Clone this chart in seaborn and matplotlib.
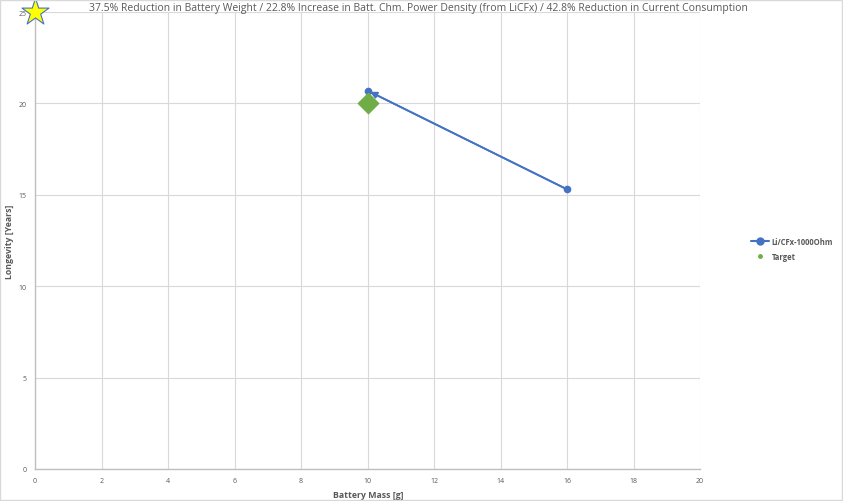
import matplotlib
matplotlib.use("Agg")
import matplotlib.pyplot as plt
import seaborn as sns
import pandas as pd
from matplotlib.lines import Line2D

sns.set_theme(style="white")
plt.rcParams['font.family'] = ['Open Sans', 'DejaVu Sans']

# Data
series_mass = [16, 10]
series_life = [15.3, 20.7]
target_mass = [10]
target_life = [20]
star_mass = [0]
star_life = [25]
series_name = "Li/CFx-1000Ohm"
target_name = "Target"
title = ("37.5% Reduction in Battery Weight / 22.8% Increase in Batt. Chm. Power Density "
         "(from LiCFx) / 42.8% Reduction in Current Consumption")
x_ticks = [0, 2, 4, 6, 8, 10, 12, 14, 16, 18, 20]
y_ticks = [0, 5, 10, 15, 20, 25]

blue = "#4472C4"
green = "#70AD47"
grid_c = "#D9D9D9"
text_c = "#595959"

fig = plt.figure(figsize=(8.43, 5.02), dpi=100)
ax = fig.add_axes([35/843, 32/502, 665/843, 457/502])

df = pd.DataFrame({"mass": series_mass, "life": series_life})
sns.lineplot(data=df, x="mass", y="life", sort=False, ax=ax, color=blue,
             linewidth=1.3, marker="o", markersize=5.5, markeredgewidth=0, legend=False)
ax.annotate("", xy=(series_mass[1], series_life[1]),
            xytext=(series_mass[0], series_life[0]),
            arrowprops=dict(arrowstyle="-|>", color=blue, lw=1.3,
                            mutation_scale=10, shrinkA=0, shrinkB=2))

sns.scatterplot(x=target_mass, y=target_life, ax=ax, color=green, marker="D",
                s=110, edgecolor=green, legend=False, zorder=4)
sns.scatterplot(x=star_mass, y=star_life, ax=ax, color="#FFFF00", marker="*",
                s=420, edgecolor=blue, linewidth=0.8, legend=False, zorder=5,
                clip_on=False)

ax.set_xlim(0, 20)
ax.set_ylim(0, 25)
ax.set_xticks(x_ticks)
ax.set_yticks(y_ticks)
ax.set_xticklabels([str(t) for t in x_ticks])
ax.set_yticklabels([str(t) for t in y_ticks])
ax.tick_params(axis="both", labelsize=5, colors=text_c, length=0, pad=6)
ax.grid(True, color=grid_c, linewidth=0.8)
ax.set_axisbelow(True)
for s in ["top", "right"]:
    ax.spines[s].set_visible(False)
for s in ["left", "bottom"]:
    ax.spines[s].set_color("#BFBFBF")
    ax.spines[s].set_linewidth(1)

ax.set_xlabel("Battery Mass [g]", fontsize=6.3, color=text_c, fontweight="bold")
ax.xaxis.set_label_coords((368 - 35) / 665, -(491 - 470) / 457)
ax.set_ylabel("Longevity [Years]", fontsize=6.3, color=text_c, fontweight="bold")
ax.yaxis.set_label_coords(-(35 - 14) / 665, 0.5)

fig.text(418/843, 1 - 9/502, title, fontsize=7.5, color=text_c, ha="center", va="center")

handles = [
    Line2D([], [], color=blue, marker="o", markersize=5, linewidth=1.5),
    Line2D([], [], color=green, marker="o", markersize=2.5, linewidth=0),
]
fig.legend(handles, [series_name, target_name], loc="center left",
           bbox_to_anchor=(749/843, 1 - 250/502), frameon=False,
           prop={"size": 5.5, "weight": "bold"}, labelcolor=text_c,
           handlelength=2.4, handletextpad=0.35, labelspacing=0.8,
           borderaxespad=0, borderpad=0.2)

border = plt.Rectangle((0.0005, 0.001), 0.998, 0.997, transform=fig.transFigure,
                       fill=False, edgecolor="#D9D9D9", linewidth=1)
fig.patches.append(border)

fig.savefig("out.png", dpi=100)
